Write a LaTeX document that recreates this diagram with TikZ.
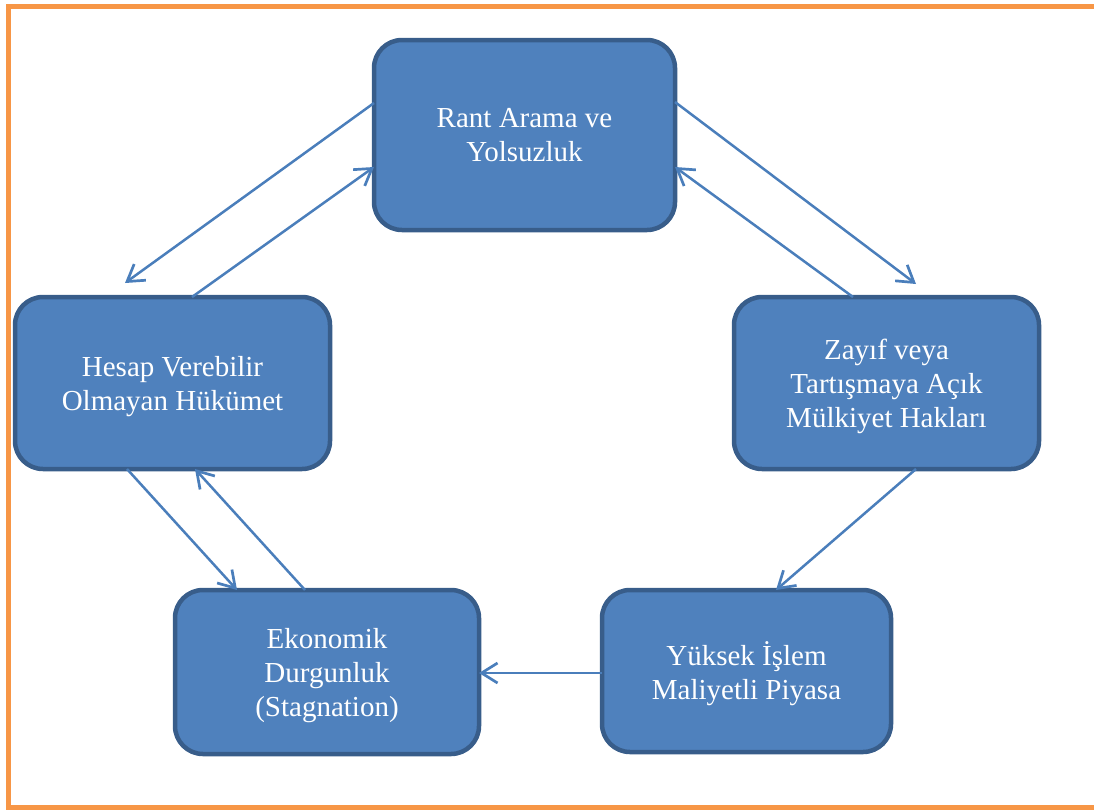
\documentclass[tikz,border=0pt]{standalone}
\usepackage{fontspec}
\setmainfont{Liberation Serif}
\usetikzlibrary{arrows.meta,calc}

\definecolor{boxfill}{HTML}{4F81BD}
\definecolor{boxline}{HTML}{385D8A}
\definecolor{arrowblue}{HTML}{4A7EBB}
\definecolor{frameorange}{HTML}{F79646}

\tikzset{
  cyclebox/.style={rectangle, rounded corners=28pt, fill=boxfill, draw=boxline,
    line width=4.5pt, outer sep=0pt, inner sep=0pt, text=white, align=center,
    text depth=-2pt, font=\fontsize{29}{34}\selectfont},
  flow/.style={draw=arrowblue, line width=2.5pt,
    -{Straight Barb[length=16pt,width=20pt,line width=2.7pt]}}
}

\begin{document}
\begin{tikzpicture}[x=1pt,y=-1pt]
  \useasboundingbox (0,0) rectangle (1094,809);
  \clip (0,0) rectangle (1094,809);

  % orange frame, open on the right
  \draw[frameorange, line width=5pt] (1110,6) -- (8.5,6) -- (8.5,807.5) -- (1110,807.5);

  % the five stages of the cycle
  \node[cyclebox, minimum width=301pt, minimum height=190pt] (rant) at (524.5,135)
    {Rant Arama ve\\Yolsuzluk};
  \node[cyclebox, minimum width=315pt, minimum height=172pt] (hesap) at (172.5,383)
    {Hesap Verebilir\\Olmayan Hükümet};
  \node[cyclebox, minimum width=305pt, minimum height=172pt] (zayif) at (886.5,383)
    {Zayıf veya\\Tartışmaya Açık\\Mülkiyet Hakları};
  \node[cyclebox, minimum width=289pt, minimum height=162pt] (yuksek) at (746.5,671)
    {Yüksek İşlem\\Maliyetli Piyasa};
  \node[cyclebox, minimum width=304pt, minimum height=164pt] (ekon) at (327,672)
    {Ekonomik\\Durgunluk\\(Stagnation)};

  % connectors
  \draw[flow] ($(rant.west)+(0,-32)$) -- ($(hesap.north)+(-47.5,-14)$);
  \draw[flow] ($(hesap.north)+(19.5,0)$) -- ($(rant.west)+(0,32)$);
  \draw[flow] ($(rant.east)+(0,-33)$) -- ($(zayif.north)+(29.5,-13)$);
  \draw[flow] ($(zayif.north)+(-33.5,0)$) -- ($(rant.east)+(0,32)$);
  \draw[flow] ($(zayif.south)+(29.5,0)$) -- ($(yuksek.north)+(29.5,0)$);
  \draw[flow] ($(yuksek.west)+(0,2)$) -- ($(ekon.east)+(0,1)$);
  \draw[flow] ($(ekon.north)+(-22,0)$) -- ($(hesap.south)+(22.5,0)$);
  \draw[flow] ($(hesap.south)+(-45.5,0)$) -- ($(ekon.north)+(-90,0)$);
\end{tikzpicture}
\end{document}
